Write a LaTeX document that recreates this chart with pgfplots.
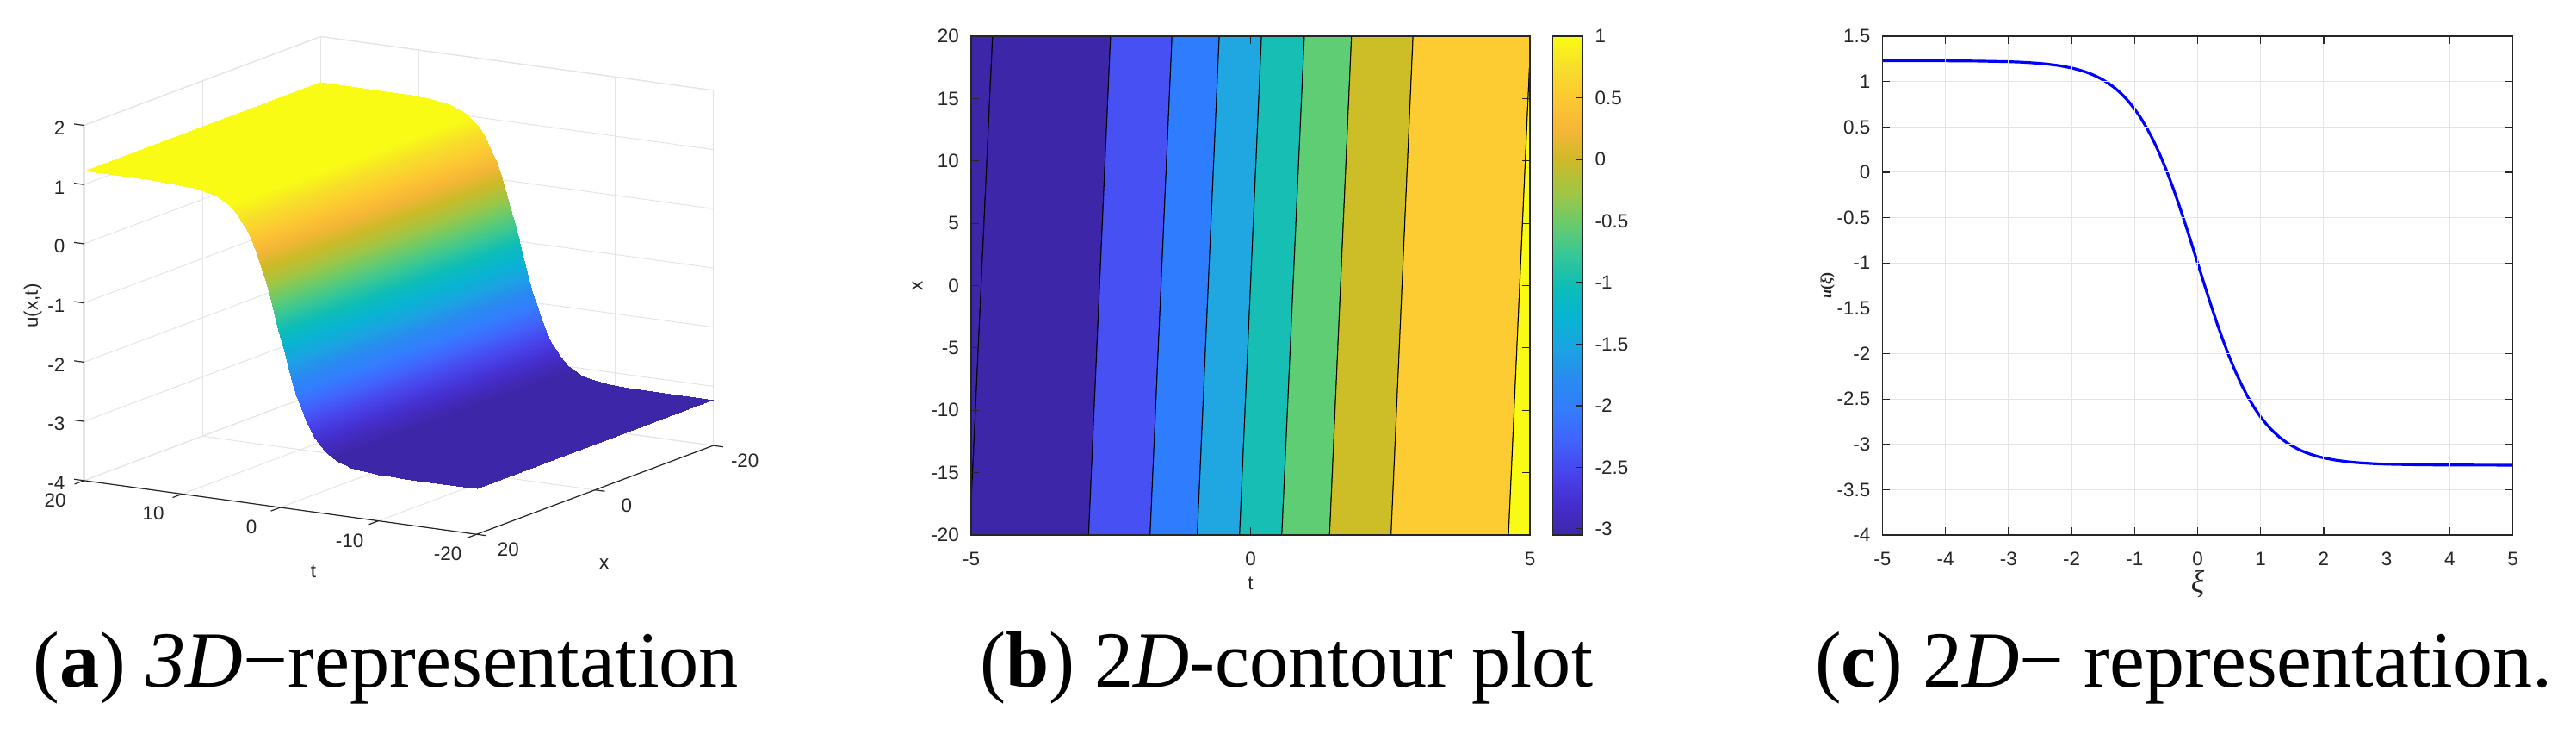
\documentclass[border=0pt]{standalone}
\usepackage{fontspec}
\usepackage{pgfplots}
\usepackage{pgfplotstable}
\pgfplotsset{compat=1.18}
\setmainfont{Liberation Serif}
\newfontfamily\axisfont{Liberation Sans}
\newfontfamily\serifb{Liberation Serif}
\definecolor{tl}{RGB}{38,38,38}
\definecolor{gl}{RGB}{228,228,228}
\definecolor{cA}{RGB}{62,38,168}
\definecolor{cB}{RGB}{71,80,242}
\definecolor{cC}{RGB}{46,125,254}
\definecolor{cD}{RGB}{32,167,226}
\definecolor{cE}{RGB}{23,190,180}
\definecolor{cF}{RGB}{95,205,115}
\definecolor{cG}{RGB}{205,190,40}
\definecolor{cH}{RGB}{253,203,50}
\definecolor{cI}{RGB}{249,251,21}
\pgfplotsset{
  colormap={parulax}{rgb255=(62,38,168) rgb255=(69,46,205) rgb255=(72,68,235) rgb255=(66,98,252)
    rgb255=(52,124,255) rgb255=(41,139,240) rgb255=(27,163,226) rgb255=(8,180,210)
    rgb255=(13,189,183) rgb255=(55,199,150) rgb255=(105,203,108) rgb255=(160,198,68)
    rgb255=(205,186,40) rgb255=(245,182,55) rgb255=(253,200,50) rgb255=(247,222,42) rgb255=(249,251,21)},
  every axis/.append style={
    /pgf/number format/assume math mode=true,
    /pgf/number format/fixed,
    tick label style={font=\axisfont\fontsize{5.6}{6.5}\selectfont,text=tl},
    label style={font=\axisfont\fontsize{5.6}{6.5}\selectfont,text=tl},
    tick style={draw=tl,line width=0.3pt},
    axis line style={draw=tl,line width=0.3pt},
    major tick length=2.2pt,
    tick align=inside,
    minor tick num=0,
  },
}
\pgfplotstableread{
t x u
-20 -20 -3.23
-14.92 -20 -3.229
-13.08 -20 -3.227
-11.24 -20 -3.221
-10.32 -20 -3.215
-9.4 -20 -3.205
-8.48 -20 -3.189
-7.56 -20 -3.161
-7.1 -20 -3.141
-6.64 -20 -3.116
-6.18 -20 -3.083
-5.72 -20 -3.041
-5.26 -20 -2.988
-4.8 -20 -2.922
-4.34 -20 -2.838
-3.88 -20 -2.735
-3.42 -20 -2.608
-2.96 -20 -2.456
-2.5 -20 -2.275
-2.04 -20 -2.065
-1.58 -20 -1.828
-1.12 -20 -1.567
-0.66 -20 -1.288
-0.2 -20 -1
0.26 -20 -0.712
0.72 -20 -0.433
1.18 -20 -0.172
1.64 -20 0.065
2.1 -20 0.275
2.56 -20 0.456
3.02 -20 0.608
3.48 -20 0.735
3.94 -20 0.838
4.4 -20 0.922
4.86 -20 0.988
5.32 -20 1.041
5.78 -20 1.083
6.24 -20 1.116
6.7 -20 1.141
7.16 -20 1.161
8.08 -20 1.189
9 -20 1.205
9.92 -20 1.215
10.84 -20 1.221
12.68 -20 1.227
14.52 -20 1.229
20 -20 1.23
-20 20 -3.23
-14.52 20 -3.229
-12.68 20 -3.227
-10.84 20 -3.221
-9.92 20 -3.215
-9 20 -3.205
-8.08 20 -3.189
-7.16 20 -3.161
-6.7 20 -3.141
-6.24 20 -3.116
-5.78 20 -3.083
-5.32 20 -3.041
-4.86 20 -2.988
-4.4 20 -2.922
-3.94 20 -2.838
-3.48 20 -2.735
-3.02 20 -2.608
-2.56 20 -2.456
-2.1 20 -2.275
-1.64 20 -2.065
-1.18 20 -1.828
-0.72 20 -1.567
-0.26 20 -1.288
0.2 20 -1
0.66 20 -0.712
1.12 20 -0.433
1.58 20 -0.172
2.04 20 0.065
2.5 20 0.275
2.96 20 0.456
3.42 20 0.608
3.88 20 0.735
4.34 20 0.838
4.8 20 0.922
5.26 20 0.988
5.72 20 1.041
6.18 20 1.083
6.64 20 1.116
7.1 20 1.141
7.56 20 1.161
8.48 20 1.189
9.4 20 1.205
10.32 20 1.215
11.24 20 1.221
13.08 20 1.227
14.92 20 1.229
20 20 1.23
}\surfdata
\pgfplotstableread{
xi u
-5 1.2298
-4 1.2285
-3.5 1.2259
-3 1.2190
-2.8 1.2136
-2.6 1.2055
-2.4 1.1936
-2.2 1.1759
-2 1.1498
-1.9 1.1324
-1.8 1.1114
-1.7 1.0860
-1.6 1.0553
-1.5 1.0185
-1.4 0.9743
-1.3 0.9216
-1.2 0.8590
-1.1 0.7851
-1 0.6983
-0.9 0.5973
-0.8 0.4808
-0.7 0.3477
-0.6 0.1976
-0.5 0.0305
-0.4 -0.1527
-0.3 -0.3504
-0.2 -0.5598
-0.1 -0.7777
0 -1
0.1 -1.2223
0.2 -1.4402
0.3 -1.6496
0.4 -1.8473
0.5 -2.0305
0.6 -2.1976
0.7 -2.3477
0.8 -2.4808
0.9 -2.5973
1 -2.6983
1.1 -2.7851
1.2 -2.8590
1.3 -2.9216
1.4 -2.9743
1.5 -3.0185
1.6 -3.0553
1.7 -3.0860
1.8 -3.1114
1.9 -3.1324
2 -3.1498
2.2 -3.1759
2.4 -3.1936
2.6 -3.2055
2.8 -3.2136
3 -3.2190
3.5 -3.2259
4 -3.2285
5 -3.2298
}\curvedata
\begin{document}
\begin{tikzpicture}
\useasboundingbox (0,0) rectangle (748pt,212.75pt);
% ---------- panel a
\begin{axis}[
  anchor=origin, at={(115.76pt,147.1pt)},
  x={(-2.85pt,0.39pt)}, y={(-1.718pt,-0.644pt)}, z={(0pt,17.18pt)},
  xmin=-20,xmax=20,ymin=-20,ymax=20,zmin=-4,zmax=2,
  xtick={-20,-10,0,10,20}, ytick={-20,0,20}, ztick={-4,-3,-2,-1,0,1,2},
  grid=major, grid style={draw=gl,line width=0.25pt},
  axis line style={draw=none},
  tick style={draw=none},
  tick align=outside, major tick length=2.2pt,
  xticklabel style={anchor=center,xshift=-6.3pt,yshift=-4.9pt},
  yticklabel style={anchor=center,xshift=7pt,yshift=-4.2pt},
  zticklabel style={anchor=east},
  clip=false,
  colormap name=parulax,
  point meta min=-3.05, point meta max=1,
]
\draw[draw=gl,line width=0.3pt] (axis cs:20,20,2) -- (axis cs:20,-20,2) -- (axis cs:-20,-20,2) -- (axis cs:-20,-20,-4);
\draw[draw=gl,line width=0.3pt] (axis cs:20,-20,2) -- (axis cs:20,-20,-4);
\addplot3[surf,shader=interp,mesh/rows=2,mesh/ordering=x varies,point meta=\thisrow{u}] table[x=t,y=x,z=u] {\surfdata};
\draw[draw=tl,line width=0.3pt] (axis cs:20,20,2) -- (axis cs:20,20,-4) -- (axis cs:-20,20,-4) -- (axis cs:-20,-20,-4);
% t-axis tick marks
\draw[draw=tl,line width=0.3pt] (axis cs:20,20,-4) -- (axis cs:20,21.6,-4);
\draw[draw=tl,line width=0.3pt] (axis cs:10,20,-4) -- (axis cs:10,21.6,-4);
\draw[draw=tl,line width=0.3pt] (axis cs:0,20,-4) -- (axis cs:0,21.6,-4);
\draw[draw=tl,line width=0.3pt] (axis cs:-10,20,-4) -- (axis cs:-10,21.6,-4);
\draw[draw=tl,line width=0.3pt] (axis cs:-20,20,-4) -- (axis cs:-20,21.6,-4);
% x-axis tick marks
\draw[draw=tl,line width=0.3pt] (axis cs:-20,20,-4) -- (axis cs:-21,20,-4);
\draw[draw=tl,line width=0.3pt] (axis cs:-20,0,-4) -- (axis cs:-21,0,-4);
\draw[draw=tl,line width=0.3pt] (axis cs:-20,-20,-4) -- (axis cs:-21,-20,-4);
% z-axis tick marks
\draw[draw=tl,line width=0.3pt] (axis cs:20,20,2) -- (axis cs:21,20,2);
\draw[draw=tl,line width=0.3pt] (axis cs:20,20,1) -- (axis cs:21,20,1);
\draw[draw=tl,line width=0.3pt] (axis cs:20,20,0) -- (axis cs:21,20,0);
\draw[draw=tl,line width=0.3pt] (axis cs:20,20,-1) -- (axis cs:21,20,-1);
\draw[draw=tl,line width=0.3pt] (axis cs:20,20,-2) -- (axis cs:21,20,-2);
\draw[draw=tl,line width=0.3pt] (axis cs:20,20,-3) -- (axis cs:21,20,-3);
\draw[draw=tl,line width=0.3pt] (axis cs:20,20,-4) -- (axis cs:21,20,-4);
\end{axis}
\node[font=\axisfont\fontsize{5.6}{6.5}\selectfont,text=tl] at (91pt,47pt) {t};
\node[font=\axisfont\fontsize{5.6}{6.5}\selectfont,text=tl] at (175.4pt,49.2pt) {x};
\node[font=\axisfont\fontsize{5.6}{6.5}\selectfont,text=tl,rotate=90] at (9.5pt,124pt) {u(x,t)};
% ---------- panel b
\begin{axis}[
  at={(282pt,57.5pt)}, anchor=south west, scale only axis,
  width=162.25pt, height=144.75pt,
  xmin=-5,xmax=5,ymin=-20,ymax=20,
  xtick={-5,0,5}, ytick={-20,-15,...,20},
  xlabel={t}, ylabel={x},
  xlabel style={at={(axis description cs:0.5,-0.0967)},anchor=center},
  ylabel style={at={(axis description cs:-0.096,0.5)},anchor=center},
  xticklabel style={yshift=-1.5pt},
  axis on top,
  colormap name=parulax,
  point meta min=-3.05, point meta max=1,
  colorbar,
  colorbar style={
    at={(1.041,0)}, anchor=south west,
    width=8.75pt, height=144.75pt,
    ytick={-3,-2.5,-2,-1.5,-1,-0.5,0,0.5,1},
    yticklabel pos=right, ytick pos=right, tick align=inside,
    major tick length=2pt,
  },
]
\addplot[fill=cA,draw=black,line width=0.25pt] coordinates {(-5,-17.4) (-4.617,20) (-5,20) (-5,-17.4)};
\addplot[fill=cA,draw=black,line width=0.25pt] coordinates {(-5,-20) (-5,-17.4) (-4.617,20) (-2.505,20) (-2.898,-20) (-5,-20)};
\addplot[fill=cB,draw=black,line width=0.25pt] coordinates {(-2.898,-20) (-2.505,20) (-1.405,20) (-1.798,-20) (-2.898,-20)};
\addplot[fill=cC,draw=black,line width=0.25pt] coordinates {(-1.798,-20) (-1.405,20) (-0.56,20) (-0.953,-20) (-1.798,-20)};
\addplot[fill=cD,draw=black,line width=0.25pt] coordinates {(-0.953,-20) (-0.56,20) (0.196,20) (-0.196,-20) (-0.953,-20)};
\addplot[fill=cE,draw=black,line width=0.25pt] coordinates {(-0.196,-20) (0.196,20) (0.963,20) (0.56,-20) (-0.196,-20)};
\addplot[fill=cF,draw=black,line width=0.25pt] coordinates {(0.56,-20) (0.963,20) (1.807,20) (1.415,-20) (0.56,-20)};
\addplot[fill=cG,draw=black,line width=0.25pt] coordinates {(1.415,-20) (1.807,20) (2.908,20) (2.515,-20) (1.415,-20)};
\addplot[fill=cH,draw=black,line width=0.25pt] coordinates {(2.515,-20) (2.908,20) (5,20) (5,18.2) (4.617,-20) (2.515,-20)};
\addplot[fill=cI,draw=black,line width=0.25pt] coordinates {(4.617,-20) (5,18.2) (5,-20) (4.617,-20)};
\end{axis}
% ---------- panel c
\begin{axis}[
  at={(546.6pt,57.5pt)}, anchor=south west, scale only axis,
  width=183.05pt, height=144.75pt,
  xmin=-5,xmax=5,ymin=-4,ymax=1.5,
  xtick={-5,-4,...,5}, ytick={-4,-3.5,...,1.5},
  grid=major, grid style={draw=gl,line width=0.25pt},
  xlabel={\serifb\fontsize{9}{10}\selectfont\textit{ξ}},
  ylabel={\serifb\fontsize{4.5}{5}\selectfont\textbf{\textit{u}(\textit{ξ})}},
  xlabel style={at={(axis description cs:0.5,-0.098)},anchor=center},
  ylabel style={at={(axis description cs:-0.087,0.5)},anchor=center},
  xticklabel style={yshift=-1.5pt},
  axis on top,
]
\addplot[blue,line width=0.8pt,line join=round] table[x=xi,y=u] {\curvedata};
\end{axis}
% ---------- captions
\node[anchor=base west,inner sep=0pt,font=\fontsize{23.1}{26}\selectfont] at (9.5pt,13.4pt) {(\textbf{a}) \textit{3D}−representation};
\node[anchor=base west,inner sep=0pt,font=\fontsize{23.1}{26}\selectfont,xscale=0.976] at (284.5pt,13.4pt) {(\textbf{b}) 2\textit{D}-contour plot};
\node[anchor=base west,inner sep=0pt,font=\fontsize{23.1}{26}\selectfont,xscale=0.995] at (526.8pt,13.4pt) {(\textbf{c}) 2\textit{D}− representation.};
\end{tikzpicture}
\end{document}
